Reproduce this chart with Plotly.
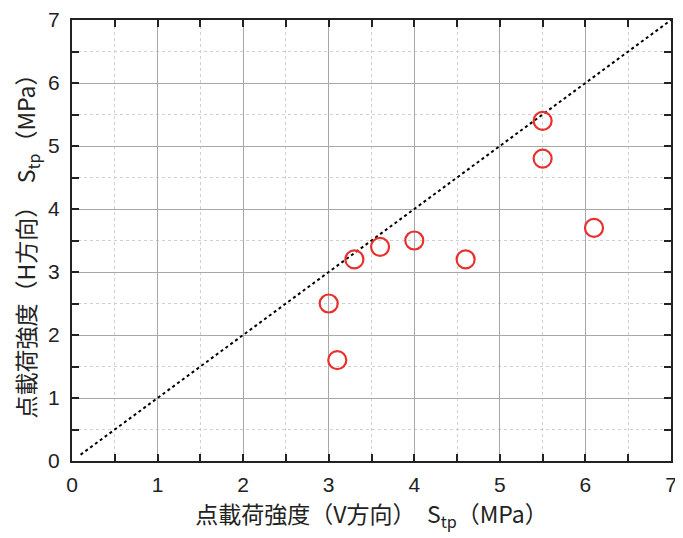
import plotly.graph_objects as go

sv = [3.0, 3.1, 3.3, 3.6, 4.0, 4.6, 5.5, 5.5, 6.1]
sh = [2.5, 1.6, 3.2, 3.4, 3.5, 3.2, 5.4, 4.8, 3.7]
line_x = [0.1, 7]
line_y = [0.1, 7]
ticks = [0, 1, 2, 3, 4, 5, 6, 7]

font_jp = "Noto Sans CJK JP"

fig = go.Figure()
fig.add_trace(go.Scatter(x=line_x, y=line_y, mode="lines",
                         line=dict(color="black", width=2, dash="dot"),
                         showlegend=False))
fig.add_trace(go.Scatter(x=sv, y=sh, mode="markers",
                         marker=dict(symbol="circle-open", size=18,
                                     color="#e8302e", line=dict(width=2.2, color="#e8302e")),
                         showlegend=False))

axis_common = dict(
    range=[0, 7], tickvals=ticks, showline=True, linecolor="#222", linewidth=2,
    mirror="ticks", ticks="inside", ticklen=7, tickwidth=2, tickcolor="#222",
    showgrid=True, gridcolor="#a8a8a8", gridwidth=1,
    minor=dict(dtick=0.5, showgrid=True, gridcolor="#d0d0d0", griddash="dot",
               ticks="inside", ticklen=7, tickwidth=2, tickcolor="#222"),
    tickfont=dict(family="Liberation Sans", size=21, color="#222"),
    zeroline=False, automargin=False,
)

title_font = dict(family=font_jp, size=23, color="#222")

fig.update_xaxes(**axis_common, ticklabelstandoff=4,
                 title=dict(text="点載荷強度（V方向）　S<sub>tp</sub>（MPa）",
                            font=title_font, standoff=6))
fig.update_yaxes(**axis_common, ticklabelstandoff=6,
                 title=dict(text="点載荷強度（H方向）　S<sub>tp</sub>（MPa）",
                            font=title_font, standoff=12))

# the page body adds an 8px offset; margins compensate so the plot area matches
fig.update_layout(width=683, height=538, margin=dict(l=64, r=20, t=12, b=85),
                  plot_bgcolor="white", paper_bgcolor="white")

fig.write_html("out.html")
